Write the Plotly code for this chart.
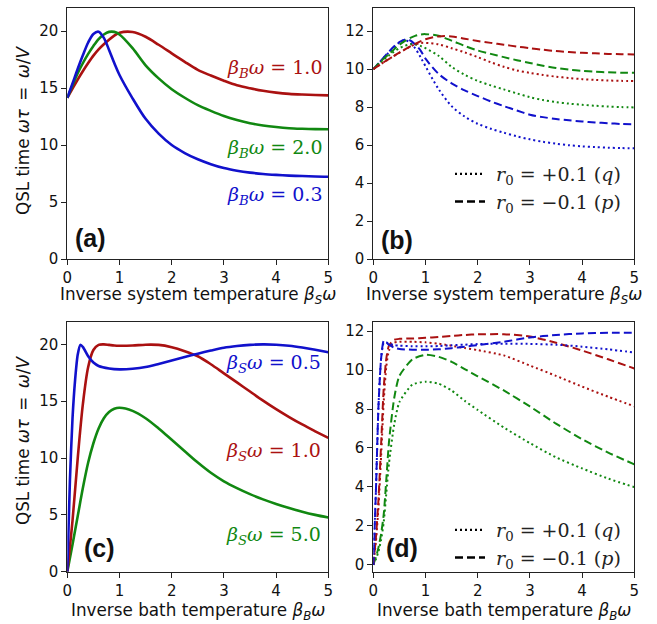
import plotly.graph_objects as go

W, H = 657, 624
RED, GREEN, BLUE = "#aa1111", "#118811", "#1111cc"

# common x samples
xa = [0, 0.1, 0.2, 0.3, 0.4, 0.5, 0.6, 0.7, 0.8, 0.9, 1.0, 1.25, 1.5, 1.75, 2.0, 2.25, 2.5, 2.75,
      3.0, 3.25, 3.5, 3.75, 4.0, 4.25, 4.5, 4.75, 5.0]

# ---------- Panel (a): vs inverse system temperature (beta_B w = 0.3, 2.0, 1.0) ----------
a_blue_y = [14.15, 15.4, 16.7, 17.9, 19.0, 19.75, 19.95, 19.4, 18.35, 17.2, 16.15, 14.1, 12.3, 11.0, 10.0,
            9.3, 8.75, 8.32, 7.98, 7.75, 7.58, 7.46, 7.38, 7.32, 7.28, 7.24, 7.22]
a_green_y = [14.15, 15.25, 16.3, 17.2, 18.0, 18.7, 19.3, 19.7, 19.93, 19.93, 19.7, 18.5, 17.0, 15.85, 14.9,
             14.15, 13.5, 13.0, 12.55, 12.2, 11.92, 11.72, 11.58, 11.48, 11.43, 11.4, 11.38]
a_red_y = [14.15, 14.95, 15.75, 16.5, 17.2, 17.85, 18.4, 18.85, 19.25, 19.6, 19.85, 19.92, 19.5, 18.8, 18.05,
           17.3, 16.6, 16.1, 15.65, 15.25, 14.98, 14.76, 14.6, 14.49, 14.43, 14.39, 14.36]

# ---------- Panel (b): r0=+0.1 (q, dotted) and r0=-0.1 (p, dashed) ----------
b_blue_q = [10.0, 10.3, 10.6, 10.88, 11.15, 11.4, 11.53, 11.4, 11.1, 10.65, 10.15, 8.95, 8.05, 7.5, 7.12,
            6.86, 6.65, 6.46, 6.3, 6.17, 6.07, 5.99, 5.93, 5.89, 5.86, 5.84, 5.83]
b_blue_p = [10.0, 10.3, 10.62, 10.92, 11.2, 11.42, 11.55, 11.52, 11.3, 11.0, 10.55, 9.75, 9.25, 8.88, 8.58,
            8.3, 8.05, 7.82, 7.6, 7.47, 7.37, 7.3, 7.24, 7.19, 7.15, 7.11, 7.09]
b_green_q = [10.0, 10.25, 10.5, 10.72, 10.92, 11.1, 11.22, 11.3, 11.3, 11.22, 11.1, 10.7, 10.12, 9.7, 9.38,
             9.14, 8.93, 8.72, 8.52, 8.37, 8.26, 8.18, 8.12, 8.07, 8.03, 8.0, 7.98]
b_green_p = [10.0, 10.28, 10.55, 10.8, 11.05, 11.28, 11.47, 11.63, 11.75, 11.82, 11.84, 11.75, 11.5, 11.22, 10.98,
             10.8, 10.63, 10.47, 10.32, 10.18, 10.06, 9.97, 9.91, 9.86, 9.83, 9.81, 9.8]
b_red_q = [10.0, 10.18, 10.36, 10.53, 10.7, 10.86, 11.02, 11.17, 11.3, 11.37, 11.38, 11.3, 11.1, 10.88, 10.63,
           10.36, 10.12, 9.93, 9.8, 9.69, 9.6, 9.53, 9.47, 9.43, 9.4, 9.38, 9.37]
b_red_p = [10.0, 10.18, 10.36, 10.53, 10.7, 10.87, 11.03, 11.18, 11.33, 11.46, 11.57, 11.72, 11.72, 11.6, 11.48,
           11.38, 11.28, 11.19, 11.1, 11.02, 10.95, 10.9, 10.86, 10.83, 10.8, 10.78, 10.77]

# ---------- Panel (c): vs inverse bath temperature (beta_S w = 0.5, 1.0, 5.0) ----------
c_blue_x = [0, 0.05, 0.1, 0.15, 0.2, 0.25, 0.3, 0.4, 0.5, 0.6, 0.8, 1.0, 1.25, 1.5, 1.75, 2.0, 2.25, 2.5,
            2.75, 3.0, 3.25, 3.5, 3.75, 4.0, 4.25, 4.5, 4.75, 5.0]
c_blue_y = [0, 8.0, 13.5, 16.9, 19.1, 19.95, 19.75, 18.95, 18.4, 18.1, 17.88, 17.8, 17.85, 18.0, 18.28, 18.58,
            18.88, 19.18, 19.45, 19.7, 19.85, 19.95, 20.0, 19.97, 19.88, 19.72, 19.52, 19.3]
c_red_y = [0, 4.5, 10.0, 14.8, 18.0, 19.5, 19.95, 20.0, 19.95, 19.9, 19.88, 19.9, 19.97, 19.95, 19.75,
           19.4, 18.95, 18.25, 17.45, 16.65, 15.85, 15.05, 14.3, 13.6, 12.95, 12.35, 11.77]
c_green_y = [0, 2.4, 4.9, 7.4, 9.6, 11.3, 12.6, 13.5, 14.05, 14.33, 14.42, 14.15, 13.5, 12.6, 11.6,
             10.6, 9.6, 8.7, 7.95, 7.35, 6.82, 6.36, 5.96, 5.6, 5.28, 5.0, 4.76]

# ---------- Panel (d): r0=+0.1 (q, dotted) and r0=-0.1 (p, dashed) ----------
xd = [0, 0.05, 0.1, 0.15, 0.2, 0.25, 0.3, 0.4, 0.5, 0.75, 1.0, 1.25, 1.5, 1.75, 2.0, 2.5, 3.0, 3.5, 4.0, 4.5, 5.0]
d_blue_p = [0, 3.8, 8.2, 10.6, 11.5, 11.42, 11.3, 11.15, 11.08, 11.04, 11.04, 11.06, 11.12, 11.2, 11.28,
            11.45, 11.67, 11.8, 11.88, 11.91, 11.91]
d_blue_q = [0, 3.8, 8.2, 10.6, 11.4, 11.42, 11.35, 11.28, 11.25, 11.22, 11.22, 11.23, 11.27, 11.3, 11.33,
            11.35, 11.34, 11.3, 11.2, 11.06, 10.9]
d_red_p = [0, 1.4, 3.4, 6.2, 9.1, 10.6, 11.25, 11.55, 11.6, 11.62, 11.65, 11.7, 11.75, 11.8, 11.83,
           11.84, 11.72, 11.4, 11.0, 10.55, 10.08]
d_red_q = [0, 1.2, 3.0, 5.6, 8.4, 10.2, 11.0, 11.4, 11.45, 11.45, 11.42, 11.35, 11.25, 11.13, 11.02,
           10.75, 10.23, 9.7, 9.15, 8.63, 8.14]
d_green_p = [0, 0.4, 0.9, 1.6, 2.6, 4.4, 6.3, 8.55, 9.7, 10.55, 10.78, 10.68, 10.42, 10.05, 9.68,
             8.95, 8.13, 7.25, 6.45, 5.76, 5.16]
d_green_q = [0, 0.3, 0.7, 1.3, 2.2, 3.7, 5.2, 7.2, 8.35, 9.25, 9.4, 9.3, 8.95, 8.42, 7.95,
             7.05, 6.25, 5.52, 4.95, 4.43, 3.99]

x_ticks = [0, 1, 2, 3, 4, 5]
y_ticks_big = [0, 5, 10, 15, 20]
y_ticks_small = [0, 2, 4, 6, 8, 10, 12]

fig = go.Figure()

def add(x, y, color, axis, dash="solid", width=2.6, smooth=0.9):
    fig.add_trace(go.Scatter(
        x=x, y=y, mode="lines", xaxis="x" + axis, yaxis="y" + axis,
        line=dict(color=color, width=width, dash=dash, shape="spline", smoothing=smooth),
        showlegend=False, hoverinfo="skip"))

DOT, DASH = "2px,3px", "8px,4px"

add(xa, a_red_y, RED, "")
add(xa, a_green_y, GREEN, "")
add(xa, a_blue_y, BLUE, "")

for (y, c, d) in [(b_blue_q, BLUE, DOT), (b_blue_p, BLUE, DASH),
                  (b_green_q, GREEN, DOT), (b_green_p, GREEN, DASH),
                  (b_red_q, RED, DOT), (b_red_p, RED, DASH)]:
    add(xa, y, c, "2", d, 2.0)

add(xa, c_green_y, GREEN, "3")
add(xa, c_red_y, RED, "3")
add(c_blue_x, c_blue_y, BLUE, "3", smooth=0.7)

for (y, c, d) in [(d_green_q, GREEN, DOT), (d_green_p, GREEN, DASH),
                  (d_red_q, RED, DOT), (d_red_p, RED, DASH),
                  (d_blue_q, BLUE, DOT), (d_blue_p, BLUE, DASH)]:
    add(xd, y, c, "4", d, 2.0, smooth=0.6)

# legend entries (black samples)
NB = "\u00a0"
leg_q = NB + "<i>r</i><sub>0</sub> = +0.1 (<i>q</i>)"
leg_p = NB + "<i>r</i><sub>0</sub> = \u22120.1 (<i>p</i>)"
for axis, lg in [("2", "legend"), ("4", "legend2")]:
    for name, d in [(leg_q, DOT), (leg_p, DASH)]:
        fig.add_trace(go.Scatter(x=[None], y=[None], mode="lines", name=name,
                                 xaxis="x" + axis, yaxis="y" + axis, legend=lg,
                                 line=dict(color="black", width=2.4, dash=d)))

def px(xp, yp):
    return xp / W, 1 - yp / H

tickfont = dict(family="DejaVu Sans", size=15, color="#111")
def xax(dom, anchor):
    return dict(domain=dom, range=[0, 5], tickvals=x_ticks, anchor=anchor,
                showline=True, mirror=True, linecolor="#222", linewidth=1,
                ticks="outside", ticklen=5, tickcolor="#222", showgrid=False,
                zeroline=False, tickfont=tickfont, fixedrange=True)
def yax(dom, rng, tv, anchor):
    return dict(domain=dom, range=rng, tickvals=tv, anchor=anchor,
                showline=True, mirror=True, linecolor="#222", linewidth=1,
                ticks="outside", ticklen=5, tickcolor="#222", showgrid=False,
                zeroline=False, tickfont=tickfont, fixedrange=True)

XL = [67.3 / W, 328.3 / W]
XR = [373.3 / W, 634.3 / W]
YT = [1 - 259 / H, 1 - 8.3 / H]
YB_c = [1 - 571.7 / H, 1 - 321.6 / H]
YB_d = [1 - 572.3 / H, 1 - 321.7 / H]

legfont = dict(family="DejaVu Serif", size=19, color="#222")
fig.update_layout(
    width=W, height=H, margin=dict(l=0, r=0, t=0, b=0, autoexpand=False),
    paper_bgcolor="white", plot_bgcolor="white",
    xaxis=xax(XL, "y"), yaxis=yax(YT, [0, 22], y_ticks_big, "x"),
    xaxis2=xax(XR, "y2"), yaxis2=yax(YT, [0, 13.2], y_ticks_small, "x2"),
    xaxis3=xax(XL, "y3"), yaxis3=yax(YB_c, [0, 22], y_ticks_big, "x3"),
    xaxis4=xax(XR, "y4"), yaxis4=yax(YB_d, [-0.38, 12.48], y_ticks_small, "x4"),
    legend=dict(x=450 / W, y=1 - 155 / H, xanchor="left", yanchor="top",
                bgcolor="rgba(0,0,0,0)", font=legfont, itemwidth=30, tracegroupgap=0),
    legend2=dict(x=450 / W, y=1 - 511 / H, xanchor="left", yanchor="top",
                 bgcolor="rgba(0,0,0,0)", font=legfont, itemwidth=30, tracegroupgap=0),
)

serif = "DejaVu Serif"
def lab(text, xv, yv, color, axis):
    fig.add_annotation(text=text, x=xv, y=yv, xref="x" + axis, yref="y" + axis,
                       xanchor="right", yanchor="middle", showarrow=False,
                       font=dict(family=serif, size=19, color=color))

bB = "<i>β<sub>B</sub>ω</i>"
bS = "<i>β<sub>S</sub>ω</i>"
lab(bB + " = 1.0", 4.92, 16.75, RED, "")
lab(bB + " = 2.0", 4.92, 9.7, GREEN, "")
lab(bB + " = 0.3", 4.92, 5.6, BLUE, "")
lab(bS + " = 0.5", 4.9, 18.3, BLUE, "3")
lab(bS + " = 1.0", 4.9, 10.6, RED, "3")
lab(bS + " = 5.0", 4.9, 3.15, GREEN, "3")

def panel(text, xp, yp):
    x, y = px(xp, yp)
    fig.add_annotation(text="<b>" + text + "</b>", x=x, y=y, xref="paper", yref="paper",
                       xanchor="left", yanchor="middle", showarrow=False,
                       font=dict(family="Liberation Sans", size=25, color="#111"))
panel("(a)", 73, 238)
panel("(b)", 379, 240)
panel("(c)", 82, 548)
panel("(d)", 384, 548)

labfont = dict(family="DejaVu Sans", size=16.8, color="#111")
def title(text, xp, yp, angle=0):
    x, y = px(xp, yp)
    fig.add_annotation(text=text, x=x, y=y, xref="paper", yref="paper",
                       xanchor="center", yanchor="middle", showarrow=False,
                       textangle=angle, font=labfont)

title("Inverse system temperature <i>β<sub>S</sub>ω</i>", 198, 295)
title("Inverse system temperature <i>β<sub>S</sub>ω</i>", 504, 295)
title("Inverse bath temperature <i>β<sub>B</sub>ω</i>", 198, 611)
title("Inverse bath temperature <i>β<sub>B</sub>ω</i>", 504, 611)
ytitle = "QSL time <i>ωτ</i>\u2002=\u2002<i>ω</i>/<i>V</i>"
title(ytitle, 23, 130, -90)
title(ytitle, 23, 440, -90)

fig.write_html("out.html", config={"displayModeBar": False},
               post_script="document.body.style.margin='0';document.body.style.padding='0';")
